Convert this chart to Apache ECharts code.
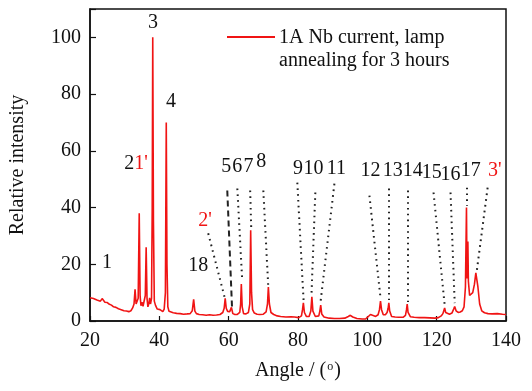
<!DOCTYPE html>
<html>
<head>
<meta charset="utf-8">
<script src="https://cdn.jsdelivr.net/npm/echarts@6/dist/echarts.min.js"></script>
<style>
  html, body { margin: 0; padding: 0; background: #fff; }
  #chart { width: 532px; height: 391px; }
</style>
</head>
<body>
<div id="chart"></div>
<script>
  // XRD pattern: [angle (deg), relative intensity]
  const xrdPoints = [
    [20.0, 8.2], [20.5, 7.6], [21.0, 7.9], [21.5, 7.2], [22.0, 7.4], [22.5, 6.9], [23.0, 7.0],
    [23.5, 7.9], [23.8, 7.3], [24.3, 6.6], [25.0, 6.5], [25.6, 5.9], [26.2, 5.6], [26.8, 5.0],
    [27.5, 4.8], [28.2, 4.3], [29.0, 4.0], [29.8, 3.6], [30.5, 3.5], [31.2, 3.3], [31.8, 3.6],
    [32.3, 4.6], [32.7, 6.0], [33.0, 11.2], [33.3, 6.0], [33.6, 5.8], [33.9, 8.0], [34.2, 38],
    [34.45, 9.0], [34.7, 5.4], [35.0, 6.6], [35.3, 5.2], [35.6, 5.0], [35.95, 9.0], [36.2, 26],
    [36.45, 8.0], [36.7, 5.0], [37.0, 6.2], [37.2, 8.2], [37.45, 6.0], [37.75, 8.0], [37.95, 40],
    [38.1, 100], [38.3, 35], [38.55, 7.0], [38.9, 5.5], [39.4, 4.2], [39.9, 3.6], [40.2, 4.0],
    [40.5, 3.4], [41.0, 3.3], [41.4, 4.2], [41.75, 10], [42.0, 70], [42.2, 20], [42.45, 5.0],
    [42.8, 3.4], [43.3, 3.0], [44.0, 2.9], [45.0, 2.7], [46.0, 2.6], [47.0, 2.4], [48.0, 2.5],
    [48.9, 2.6], [49.5, 3.6], [49.9, 7.6], [50.25, 3.5], [50.7, 2.6], [51.5, 2.3], [52.5, 2.2],
    [53.5, 2.0], [54.5, 2.2], [55.5, 2.0], [56.5, 2.1], [57.5, 2.3], [58.3, 3.0], [58.7, 4.5],
    [59.0, 8.0], [59.3, 4.5], [59.7, 3.4], [60.3, 3.3], [60.8, 4.8], [61.2, 2.6], [61.8, 2.3],
    [62.5, 2.3], [63.2, 3.0], [63.45, 6.0], [63.65, 13.0], [63.9, 5.0], [64.3, 2.6], [65.0, 2.5],
    [65.7, 3.0], [66.1, 6.0], [66.35, 32.0], [66.6, 10], [66.9, 4.0], [67.4, 2.8], [68.2, 2.4],
    [69.0, 2.3], [70.0, 2.4], [70.8, 3.2], [71.2, 6.0], [71.45, 12.0], [71.75, 6.0], [72.2, 3.0],
    [73.0, 2.3], [74.0, 1.8], [75.0, 1.6], [76.5, 1.4], [78.0, 1.5], [79.0, 1.4], [80.2, 1.2],
    [81.0, 1.8], [81.3, 4.0], [81.55, 6.4], [81.85, 3.0], [82.4, 1.6], [83.2, 1.6], [83.7, 3.5],
    [84.0, 8.5], [84.3, 3.5], [85.0, 1.6], [86.0, 1.8], [86.3, 3.5], [86.55, 5.6], [86.85, 2.5],
    [87.5, 1.4], [89.0, 1.0], [90.5, 0.9], [92.0, 0.9], [93.5, 1.0], [94.5, 1.6], [95.1, 2.0],
    [95.8, 1.4], [97.0, 0.9], [98.5, 0.7], [99.5, 0.7], [100.3, 1.6], [100.9, 2.3], [101.5, 2.0],
    [102.4, 1.6], [103.1, 2.2], [103.5, 4.0], [103.8, 7.0], [104.1, 4.0], [104.6, 2.2], [105.2, 2.2],
    [105.7, 3.0], [106.0, 4.5], [106.2, 6.4], [106.45, 3.5], [107.0, 1.6], [108.0, 1.4], [109.0, 1.3],
    [110.3, 1.3], [111.0, 2.0], [111.3, 4.0], [111.5, 6.0], [111.75, 3.0], [112.4, 1.5], [113.5, 1.3],
    [115.0, 1.2], [116.5, 1.2], [118.0, 1.1], [119.5, 1.0], [120.5, 1.2], [121.3, 1.8], [121.8, 2.6],
    [122.1, 3.8], [122.3, 4.6], [122.6, 3.0], [123.1, 2.5], [123.7, 2.4], [124.4, 2.8], [124.9, 4.2],
    [125.2, 5.1], [125.6, 3.6], [126.2, 3.0], [126.8, 3.2], [127.4, 3.6], [127.9, 5.0], [128.3, 12],
    [128.6, 40], [128.75, 15], [128.9, 22], [129.0, 28], [129.15, 14], [129.5, 9.0], [129.9, 8.5],
    [130.4, 10], [130.9, 13], [131.3, 17], [131.55, 17.3], [131.9, 12], [132.4, 6.0], [133.0, 3.6],
    [133.8, 2.9], [134.8, 2.6], [136.0, 2.5], [137.5, 2.6], [139.0, 2.4], [140.0, 2.3],
  ];

  const xTicks = [20, 40, 60, 80, 100, 120, 140];
  const yTicks = [0, 20, 40, 60, 80, 100];

  // peak labels: [text, angle, intensity]
  const blackLabels = [
    ['1', 24.9, 20.4], ['2', 31.3, 55.4], ['3', 38.2, 105.3], ['4', 43.4, 77.2], ['18', 51.2, 19.6],
    ['5', 59.3, 54.4], ['6', 62.5, 54.4], ['7', 65.7, 54.4], ['8', 69.4, 56.0],
    ['9', 80.0, 53.7], ['10', 84.5, 53.7], ['11', 91.1, 53.7],
    ['12', 100.9, 53.0], ['13', 107.3, 53.0], ['14', 113.1, 53.0], ['15', 118.6, 52.4],
    ['16', 124.0, 51.6], ['17', 129.8, 53.0],
  ];
  const redLabels = [
    ["1'", 34.7, 55.4], ["2'", 53.2, 35.4], ["3'", 136.8, 53.0],
  ];

  // leader lines: [[angle, intensity] start, [angle, intensity] end]
  const dottedLeaders = [
    [[54.1, 30.9], [58.8, 8.5]],
    [[62.5, 46.7], [63.9, 14.4]],
    [[66.2, 46.0], [66.5, 33.0]],
    [[70.0, 46.0], [71.4, 12.6]],
    [[79.8, 48.8], [81.6, 7.4]],
    [[85.0, 45.3], [83.9, 9.8]],
    [[90.5, 48.4], [86.5, 6.7]],
    [[100.6, 44.2], [103.8, 8.1]],
    [[106.1, 46.7], [106.1, 7.4]],
    [[111.6, 46.0], [111.6, 6.7]],
    [[119.1, 45.3], [122.3, 5.6]],
    [[124.0, 45.3], [125.2, 6.3]],
    [[128.7, 47.0], [128.7, 40.6]],
    [[134.7, 47.0], [131.6, 17.9]],
  ];
  const dashedLeaders = [
    [[59.6, 46.0], [61.0, 3.9]],
  ];

  const FONT = '"Liberation Serif", "Times New Roman", serif';
  const RED = '#f01414';

  const chart = echarts.init(document.getElementById('chart'));

  const labelSeries = (items, color) => ({
    type: 'scatter',
    data: items.map((it) => ({ value: [it[1], it[2]], name: it[0] })),
    symbolSize: 1,
    itemStyle: { color: 'rgba(0,0,0,0)', opacity: 1 },
    silent: true,
    z: 5,
    label: {
      show: true,
      position: 'inside',
      formatter: (p) => p.name,
      color,
      fontFamily: FONT,
      fontSize: 20,
    },
  });

  const option = {
    animation: false,
    grid: {
      left: 90,
      right: 26,
      top: 9,
      bottom: 70,
      show: true,
      borderColor: '#111',
      borderWidth: 1.5,
    },
    xAxis: {
      type: 'value',
      min: xTicks[0],
      max: xTicks[xTicks.length - 1],
      interval: 20,
      name: 'Angle / ({s|o})',
      nameLocation: 'middle',
      nameGap: 40,
      nameTextStyle: {
        fontFamily: FONT,
        fontSize: 20,
        color: '#111',
        rich: { s: { fontFamily: FONT, fontSize: 12, verticalAlign: 'top', padding: [0, 1, 8, 1], color: '#111' } },
      },
      axisLine: { lineStyle: { color: '#111', width: 1.5 } },
      axisTick: { inside: true, length: 5, lineStyle: { color: '#111', width: 1.2 } },
      axisLabel: { fontFamily: FONT, fontSize: 20, color: '#111', margin: 10 },
      splitLine: { show: false },
    },
    yAxis: {
      type: 'value',
      min: yTicks[0],
      max: 110,
      interval: 20,
      name: 'Relative intensity',
      nameLocation: 'middle',
      nameGap: 62,
      nameTextStyle: { fontFamily: FONT, fontSize: 20, color: '#111' },
      axisLine: { lineStyle: { color: '#111', width: 1.5 } },
      axisTick: { inside: true, length: 6, lineStyle: { color: '#111', width: 1.2 } },
      axisLabel: {
        fontFamily: FONT,
        fontSize: 20,
        color: '#111',
        margin: 9,
        formatter: (v) => (yTicks.indexOf(v) >= 0 ? String(v) : ''),
      },
      splitLine: { show: false },
    },
    graphic: [
      {
        type: 'line',
        shape: { x1: 227, y1: 37, x2: 275, y2: 37 },
        style: { stroke: RED, lineWidth: 2 },
      },
      {
        type: 'text',
        left: 279,
        top: 26,
        style: {
          text: '1A Nb current, lamp\nannealing for 3 hours',
          font: '20px ' + FONT,
          lineHeight: 23,
          fill: '#111',
        },
      },
    ],
    series: [
      {
        name: '1A Nb current, lamp annealing for 3 hours',
        type: 'line',
        data: xrdPoints,
        showSymbol: false,
        lineStyle: { color: RED, width: 1.6 },
        itemStyle: { color: RED },
        z: 3,
      },
      {
        type: 'lines',
        coordinateSystem: 'cartesian2d',
        silent: true,
        data: dottedLeaders.map((c) => ({ coords: c })),
        lineStyle: { color: '#222', width: 2, type: [1.6, 4.2], opacity: 1 },
        z: 4,
      },
      {
        type: 'lines',
        coordinateSystem: 'cartesian2d',
        silent: true,
        data: dashedLeaders.map((c) => ({ coords: c })),
        lineStyle: { color: '#222', width: 2, type: [6, 4], opacity: 1 },
        z: 4,
      },
      labelSeries(blackLabels, '#111'),
      labelSeries(redLabels, RED),
    ],
  };

  chart.setOption(option);
</script>
</body>
</html>
